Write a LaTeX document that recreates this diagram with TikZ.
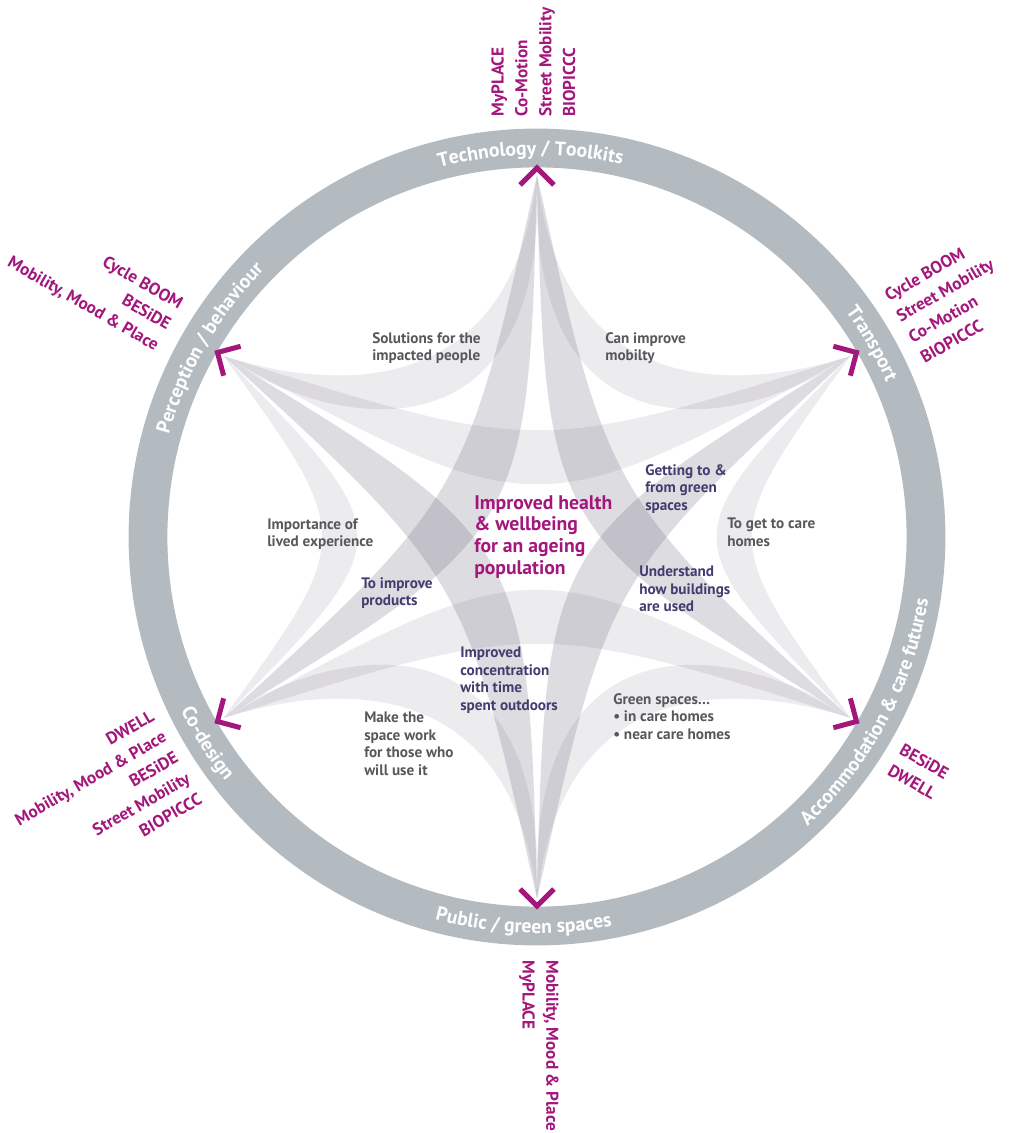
\documentclass[tikz,border=0pt]{standalone}
\usepackage{fontspec}
\setmainfont{PT Sans}
\setsansfont{PT Sans}
\usetikzlibrary{decorations.text}

\definecolor{ringgray}{RGB}{180,187,192}
\definecolor{bandbase}{RGB}{95,90,110}
\definecolor{accent}{RGB}{163,22,123}
\definecolor{notegray}{RGB}{88,88,92}
\definecolor{noteblue}{RGB}{70,58,112}

\begin{document}
\begin{tikzpicture}[x=0.25mm, y=0.25mm,
    ringband/.style={draw=ringgray, line width=9.7mm},
    chevron/.style={draw=accent, line width=1.25mm},
    bandlight/.style={fill=bandbase, fill opacity=0.12},
    banddark/.style={fill=bandbase, fill opacity=0.21},
    notetext/.style={anchor=north west, align=left, inner sep=0pt, text=notegray,
      font=\bfseries\fontsize{10.8}{12.45}\selectfont},
    linktext/.style={notetext, text=noteblue},
    goaltext/.style={anchor=north west, align=left, inner sep=0pt, text=accent,
      font=\bfseries\fontsize{14}{15.6}\selectfont},
    projtext/.style={inner sep=0pt, text=accent, font=\bfseries\fontsize{12.2}{17}\selectfont},
    ringlabel/.style={decorate, decoration={text along path, text align=center, text color=white,
      text={|\bfseries\fontsize{14}{16}\selectfont|#1}}}
  ]
  \useasboundingbox (-537,-596) rectangle (476,537);

  \foreach \a in {90,30,-30,-90,-150,150}
    \coordinate (h\a) at (\a:362);

  % crescents between neighbouring hubs
  \foreach \p/\q/\sx/\sy in {h150/h90/1/1, h30/h90/-1/1, h-150/h-90/1/-1, h-30/h-90/-1/-1}
    \fill[bandlight] (\p) .. controls ({-207*\sx},{147*\sy}) and ({-25*\sx},{132*\sy}) .. (\q)
      .. controls ({11*\sx},{67*\sy}) and ({-207*\sx},{107*\sy}) .. (\p) -- cycle;
  \foreach \p/\q/\m in {h30/h-30/0, h-150/h150/180}
    \fill[bandlight] (\p) .. controls (\m:182) and (\m:182) .. (\q)
      .. controls (\m:135) and (\m:135) .. (\p) -- cycle;

  % bands between hubs two apart
  \foreach \a/\b/\m/\s in {90/-30/30/banddark, 30/-90/-30/banddark, -30/-150/-90/bandlight,
      -90/150/-150/banddark, -150/90/150/banddark, 150/30/90/bandlight}
    \fill[\s] (h\a) .. controls (\m:82) and (\m:82) .. (h\b)
      .. controls (\m:10) and (\m:10) .. (h\a) -- cycle;

  \draw[ringband] (0,0) circle[radius=389];

  \foreach \a in {90,30,-30,-90,-150,150}
    \draw[chevron, shift={(\a:369)}] (\a+135:24) -- (0,0) -- (\a-135:24);

  \path[ringlabel={Technology / Toolkits}] (151:382) arc[start angle=151, end angle=31, radius=382];
  \path[ringlabel={Transport}] (90:382) arc[start angle=90, end angle=-30, radius=382];
  \path[ringlabel={Perception / behaviour}] (210:382) arc[start angle=210, end angle=90, radius=382];
  \path[ringlabel={Public / green spaces}] (-152:396) arc[start angle=-152, end angle=-32, radius=396];
  \path[ringlabel={Accommodation {\&} care futures}] (-88:396) arc[start angle=-88, end angle=32, radius=396];
  \path[ringlabel={Co-design}] (152:396) arc[start angle=152, end angle=272, radius=396];

  \node[projtext, rotate=90, anchor=north west, align=left] (techproj) at (-46,420)
    {MyPLACE\\Co-Motion\\Street Mobility\\BIOPICCC};
  \node[projtext, rotate=30, anchor=north west, align=left] (transproj) at (345.5,246)
    {Cycle BOOM\\Street Mobility\\Co-Motion\\BIOPICCC};
  \node[projtext, rotate=-30, anchor=north east, align=right] (percproj) at (-352,238)
    {Cycle BOOM\\BESiDE\\Mobility, Mood \& Place};
  \node[projtext, rotate=30, anchor=north east, align=right] (codesproj) at (-387.5,-172)
    {DWELL\\Mobility, Mood \& Place\\BESiDE\\Street Mobility\\BIOPICCC};
  \node[projtext, rotate=-30, anchor=north west, align=left] (accproj) at (367.5,-205.5)
    {BESiDE\\DWELL};
  \node[projtext, rotate=-90, anchor=north west, align=left] (pubproj) at (22,-423)
    {Mobility, Mood \& Place\\MyPLACE};

  \node[notetext] (solutions) at (-165,205) {Solutions for the\\impacted people};
  \node[notetext] (mobility) at (68,205) {Can improve\\mobilty};
  \node[notetext] (lived) at (-270,19) {Importance of\\lived experience};
  \node[notetext] (carehomes) at (190,19) {To get to care\\homes};
  \node[linktext] (getting) at (108,73) {Getting to \&\\from green\\spaces};
  \node[linktext] (buildings) at (102,-29) {Understand\\how buildings\\are used};
  \node[linktext] (products) at (-176,-40) {To improve\\products};
  \node[linktext] (concentration) at (-77,-110) {Improved\\concentration\\with time\\spent outdoors};
  \node[notetext] (green) at (76,-156) {Green spaces…\\• in care homes\\• near care homes};
  \node[notetext] (space) at (-173,-175) {Make the\\space work\\for those who\\will use it};
  \node[goaltext] (goal) at (-63,42) {Improved health\\\& wellbeing\\for an ageing\\population};
\end{tikzpicture}
\end{document}
